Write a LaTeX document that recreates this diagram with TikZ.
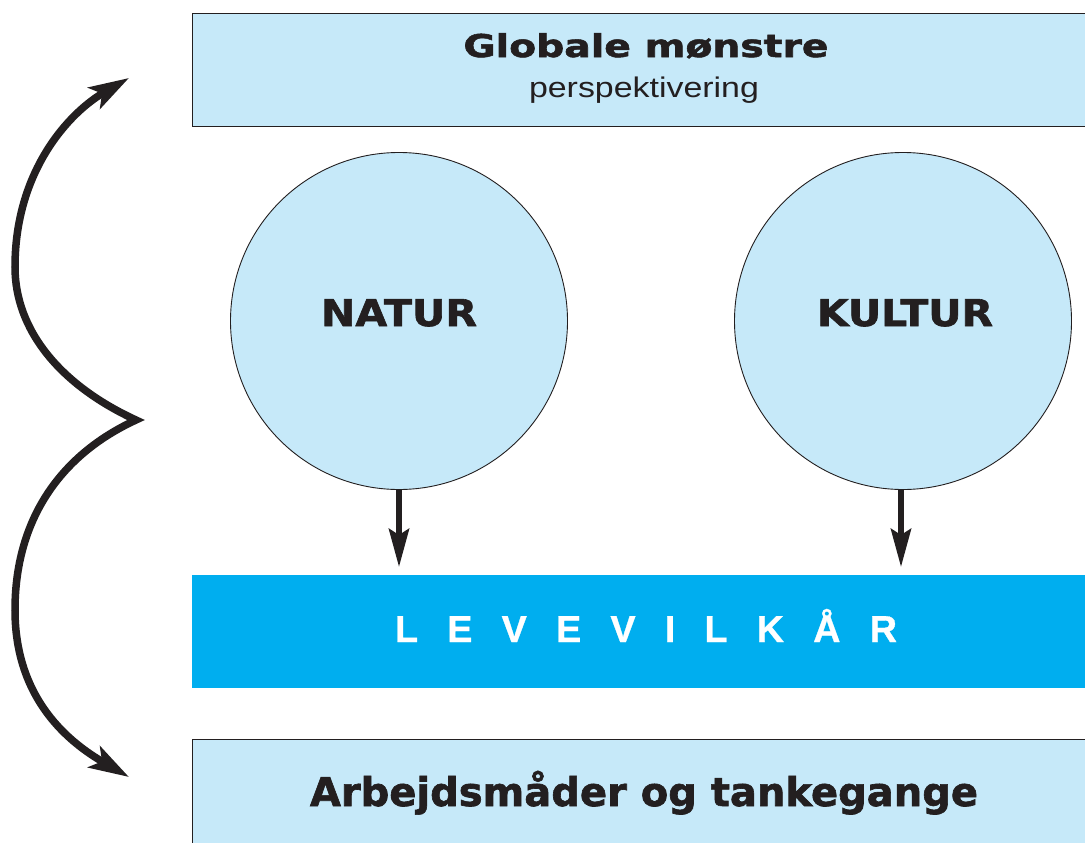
\documentclass[tikz,border=0pt]{standalone}
\usepackage{fontspec}
\usepackage{graphicx}
\setmainfont{Liberation Sans}
\newfontfamily\heavyfont{DejaVu Sans Bold}[FakeBold=1.6]
\newfontfamily\plainfont{Liberation Sans}
\newfontfamily\barfont{Liberation Sans Bold}[FakeBold=0.8]
\usetikzlibrary{arrows.meta}
\definecolor{paleblue}{HTML}{C6E9F9}
\definecolor{brightblue}{HTML}{00AEEF}
\definecolor{ink}{HTML}{231F20}
\newcommand{\fitw}[2]{\resizebox{#1}{\height}{#2}}
\newcommand{\gap}{\hspace{29bp}}
\tikzset{
  panel/.style={draw=ink, line width=1bp, fill=paleblue, rectangle, inner sep=0pt, anchor=north west},
  bar/.style={fill=brightblue, rectangle, inner sep=0pt, anchor=north west},
  bubble/.style={circle, draw=ink, line width=0.9bp, fill=paleblue, inner sep=0pt, minimum size=337bp},
  heavytxt/.style={anchor=base, text=ink, inner sep=0pt},
  downarrow/.style={draw=ink, line width=6bp, -{Stealth[length=38bp, width=20bp, inset=6bp]}},
  loopArrow/.style={draw=ink, line width=7.5bp, line join=miter, miter limit=10,
     {Stealth[length=40bp, width=24bp, inset=9bp]}-{Stealth[length=40bp, width=24bp, inset=9bp]}}
}
\begin{document}
\begin{tikzpicture}[x=1bp, y=-1bp]
\useasboundingbox (0,0) rectangle (1085,843);
\fill[white] (0,0) rectangle (1085,843);
\clip (0,0) rectangle (1085,843);

% boxes
\node[panel, minimum width=920bp, minimum height=113bp] (global) at (192,12.5) {};
\node[bar, minimum width=920bp, minimum height=113bp] (levevilkar) at (192,575) {};
\node[panel, minimum width=920bp, minimum height=130bp] (arbejde) at (192,739) {};

% circles
\node[bubble] (natur) at (399,321) {};
\node[bubble] (kultur) at (903,321) {};

% texts
\node[heavytxt, font=\heavyfont\fontsize{31.5}{36}\selectfont] (globaltxt) at (646,57) {\fitw{365bp}{Globale mønstre}};
\node[anchor=base, inner sep=0pt, text=ink, font=\plainfont\fontsize{28.5}{32}\selectfont] (perstxt) at (644,97) {\fitw{230bp}{perspektivering}};
\node[heavytxt, font=\heavyfont\fontsize{37}{42}\selectfont] (naturtxt) at (399,326) {\fitw{156bp}{NATUR}};
\node[heavytxt, font=\heavyfont\fontsize{37}{42}\selectfont] (kulturtxt) at (905,326) {\fitw{176bp}{KULTUR}};
\node[anchor=base, inner sep=0pt, text=white, font=\barfont\fontsize{37.7}{42}\selectfont] (levtxt) at (646,642)
  {\fitw{502bp}{L\gap E\gap V\gap E\gap V\gap I\gap L\gap K\gap Å\gap R}};
\node[heavytxt, font=\heavyfont\fontsize{39.8}{44}\selectfont] (arbtxt) at (644,806) {\fitw{668bp}{Arbejdsmåder og tankegange}};

% vertical arrows
\coordinate (naturend) at (399,567);
\coordinate (kulturend) at (901,567);
\draw[downarrow] (natur.south) -- (naturend);
\draw[downarrow] (kultur.south -| kulturend) -- (kulturend);

% curly double arrow
\coordinate (toptip) at (129,78);
\coordinate (cusp) at (136,420);
\coordinate (bottip) at (129,777);
\draw[loopArrow] (toptip) .. controls (70,112) and (15,170) .. (15,267)
  .. controls (15,330) and (60,385) .. (cusp)
  .. controls (60,455) and (15,520) .. (15,610)
  .. controls (15,700) and (70,743) .. (bottip);
\end{tikzpicture}
\end{document}
